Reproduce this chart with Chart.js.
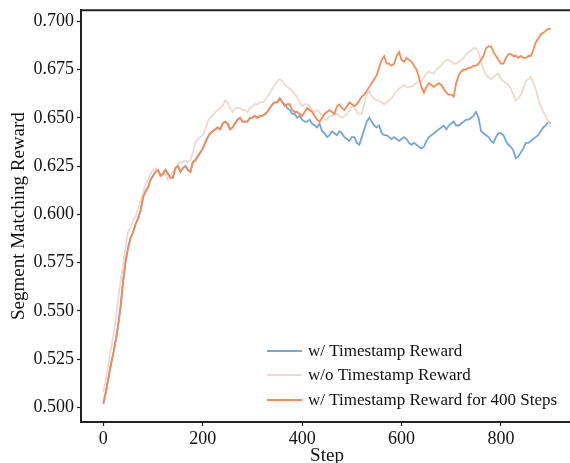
<!DOCTYPE html>
<html>
<head>
<meta charset="utf-8">
<script src="https://cdn.jsdelivr.net/npm/chart.js@4.4.1/dist/chart.umd.min.js"></script>
<style>
html,body{margin:0;padding:0;background:#fff;overflow:hidden;}
#wrap{position:relative;width:575px;height:463px;}
</style>
</head>
<body>
<div id="wrap"><canvas id="c" width="575" height="463"></canvas></div>
<script>
const steps = [0,5,10,15,20,25,30,35,40,45,50,55,60,65,70,75,80,85,90,95,100,105,110,115,120,125,130,135,140,145,150,155,160,165,170,175,180,185,190,195,200,205,210,215,220,225,230,235,240,245,250,255,260,265,270,275,280,285,290,295,300,305,310,315,320,325,330,335,340,345,350,355,360,365,370,375,380,385,390,395,400,405,410,415,420,425,430,435,440,445,450,455,460,465,470,475,480,485,490,495,500,505,510,515,520,525,530,535,540,545,550,555,560,565,570,575,580,585,590,595,600,605,610,615,620,625,630,635,640,645,650,655,660,665,670,675,680,685,690,695,700,705,710,715,720,725,730,735,740,745,750,755,760,765,770,775,780,785,790,795,800,805,810,815,820,825,830,835,840,845,850,855,860,865,870,875,880,885,890,895,900];

// w/ Timestamp Reward
const withReward = [
.502,.508,.515,.522,.528,.535,.543,.553,.566,.576,
.583,.588,.591,.595,.598,.602,.609,.612,.614,.618,
.620,.622,.623,.620,.621,.623,.621,.619,.619,.624,
.625,.622,.624,.625,.623,.622,.627,.628,.630,.632,
.634,.637,.640,.642,.643,.644,.645,.644,.647,.648,
.647,.644,.645,.647,.649,.650,.648,.648,.648,.650,
.650,.651,.650,.651,.651,.652,.653,.655,.657,.658,
.658,.660,.658,
.657,.655,.654,.652,.652,.650,.651,.649,.648,.648,
.649,.647,.646,.645,.647,.643,.642,.640,.641,.643,
.642,.641,.643,.642,.640,.639,.638,.640,.640,.637,
.636,.640,.644,.648,.650,.648,.646,.645,.646,.642,
.641,.641,.640,.639,.640,.639,.638,.639,.640,.639,
.637,.636,.637,.636,.635,.634,.635,.638,.640,.641,
.642,.643,.644,.645,.646,.644,.646,.647,.648,.646,
.646,.647,.648,.649,.649,.650,.651,.653,.650,.643,
.642,.641,.640,.638,.637,.640,.642,.642,.641,.638,
.636,.635,.633,.629,.630,.632,.634,.637,.637,.638,
.639,.640,.641,.643,.645,.646,.648,.647];

// w/o Timestamp Reward
const withoutReward = [
.508,.514,.522,.530,.537,.546,.557,.566,.574,.584,
.591,.594,.597,.599,.603,.607,.611,.616,.618,.621,
.623,.624,.622,.620,.620,.621,.618,.620,.622,.624,
.626,.627,.627,.628,.627,.628,.632,.637,.639,.640,
.641,.644,.648,.650,.651,.653,.654,.655,.656,.659,
.658,.655,.653,.655,.655,.655,.654,.654,.653,.655,
.656,.657,.657,.658,.658,.659,.661,.663,.665,.667,
.669,.670,.669,.667,.666,.665,.664,.662,.661,.658,
.656,.657,.657,.656,.654,.653,.654,.653,.651,.649,
.649,.651,.651,.652,.652,.651,.650,.651,.652,.654,
.656,.655,.653,.652,.652,.657,.662,.664,.661,.660,
.659,.659,.658,.657,.658,.659,.660,.662,.664,.665,
.666,.667,.666,.666,.666,.667,.668,.669,.669,.671,
.673,.674,.673,.673,.675,.676,.677,.679,.680,.680,
.679,.678,.678,.679,.680,.681,.683,.684,.685,.686,
.686,.684,.679,.675,.672,.671,.670,.671,.672,.673,
.670,.669,.668,.667,.665,.662,.659,.660,.662,.665,
.669,.670,.671,.668,.665,.660,.656,.653,.651,.648,
.645];

// w/ Timestamp Reward for 400 Steps
const reward400 = [
.502,.508,.515,.522,.528,.535,.543,.553,.566,.576,
.583,.588,.591,.595,.598,.602,.609,.612,.614,.618,
.620,.622,.623,.620,.621,.623,.621,.619,.619,.624,
.625,.622,.624,.625,.623,.622,.627,.628,.630,.632,
.634,.637,.640,.642,.643,.644,.645,.644,.647,.648,
.647,.644,.645,.647,.649,.650,.648,.648,.648,.650,
.650,.651,.650,.651,.651,.652,.653,.655,.657,.658,
.658,.660,.658,
.656,.657,.657,.654,.653,.653,.652,.651,.653,.655,
.654,.653,.651,.649,.648,.650,.652,.653,.654,.653,
.652,.656,.657,.655,.654,.656,.658,.657,.656,.657,
.659,.661,.662,.664,.666,.668,.670,.672,.676,.680,
.682,.678,.678,.677,.678,.682,.684,.680,.679,.681,
.680,.679,.677,.675,.671,.666,.663,.666,.668,.667,
.666,.667,.668,.667,.665,.663,.662,.662,.661,.668,
.672,.674,.675,.675,.676,.676,.677,.677,.678,.680,
.682,.686,.687,.687,.684,.682,.680,.678,.678,.681,
.683,.683,.682,.682,.681,.682,.681,.681,.682,.682,
.685,.689,.691,.693,.694,.695,.696,.696];

const seriesNames = ['w/ Timestamp Reward','w/o Timestamp Reward','w/ Timestamp Reward for 400 Steps'];
const yTicks = [0.500,0.525,0.550,0.575,0.600,0.625,0.650,0.675,0.700];
const xTicks = [0,200,400,600,800];

const colors = ['rgb(116,166,214)','rgb(234,219,210)','rgb(245,139,86)'];
const FONT = "'Liberation Serif','Times New Roman',serif";

function pts(vals){ return steps.map((s,i)=>({x:s,y:vals[i]})); }

const legendPlugin = {
  id:'inlegend',
  afterDraw(chart){
    const ctx = chart.ctx;
    ctx.save();
    const x0 = 267, x1 = 302, tx = 308;
    const ys = [351, 375, 400];
    ctx.font = "17px " + FONT;
    ctx.textBaseline = 'middle';
    ctx.textAlign = 'left';
    for(let i=0;i<3;i++){
      ctx.strokeStyle = colors[i];
      ctx.lineWidth = 2;
      ctx.beginPath(); ctx.moveTo(x0, ys[i]); ctx.lineTo(x1, ys[i]); ctx.stroke();
      ctx.fillStyle = '#111';
      ctx.fillText(seriesNames[i], tx, ys[i]+1);
    }
    ctx.restore();
  }
};

new Chart(document.getElementById('c'), {
  type:'line',
  data:{
    datasets:[
      {label:seriesNames[0], data:pts(withReward), borderColor:colors[0], borderWidth:1.8, pointRadius:0, order:2},
      {label:seriesNames[1], data:pts(withoutReward), borderColor:colors[1], borderWidth:1.8, pointRadius:0, order:1},
      {label:seriesNames[2], data:pts(reward400), borderColor:colors[2], borderWidth:1.8, pointRadius:0, order:0}
    ]
  },
  options:{
    responsive:false,
    animation:false,
    layout:{padding:{left:0,top:9,right:2,bottom:0}},
    plugins:{legend:{display:false}, tooltip:{enabled:false}},
    scales:{
      x:{
        type:'linear', min:-45, max:945,
        afterBuildTicks:s=>{ s.ticks = xTicks.map(v=>({value:v})); },
        afterFit:s=>{ s.height = 41; },
        grid:{display:true, drawOnChartArea:false, drawTicks:true, tickLength:4, color:'#222', tickWidth:1.2},
        border:{display:true, color:'#222', width:2},
        ticks:{color:'#111', font:{family:FONT, size:18}, padding:2, maxRotation:0, callback:v=>String(v)},
        title:{display:true, text:'Step', color:'#111', font:{family:FONT, size:19, lineHeight:1}, padding:{top:0,bottom:-3}}
      },
      y:{
        type:'linear', min:0.4925, max:0.7057,
        afterBuildTicks:s=>{ s.ticks = yTicks.map(v=>({value:v})); },
        afterFit:s=>{ s.width = 81; },
        grid:{display:true, drawOnChartArea:false, drawTicks:true, tickLength:4, color:'#222', tickWidth:1.2},
        border:{display:true, color:'#222', width:2},
        ticks:{color:'#111', font:{family:FONT, size:18, lineHeight:0.8}, padding:3, callback:v=>Number(v).toFixed(3)},
        title:{display:true, text:'Segment Matching Reward', color:'#111', font:{family:FONT, size:19, lineHeight:1.2}, padding:{top:8,bottom:0}}
      }
    }
  },
  plugins:[legendPlugin, {
    id:'topline',
    afterDraw(chart){
      const a = chart.chartArea, ctx = chart.ctx;
      ctx.save(); ctx.strokeStyle='#222'; ctx.lineWidth=2;
      ctx.beginPath(); ctx.moveTo(a.left-1, a.top); ctx.lineTo(a.right+2, a.top); ctx.stroke();
      ctx.restore();
    }
  }]
});
</script>
</body>
</html>
